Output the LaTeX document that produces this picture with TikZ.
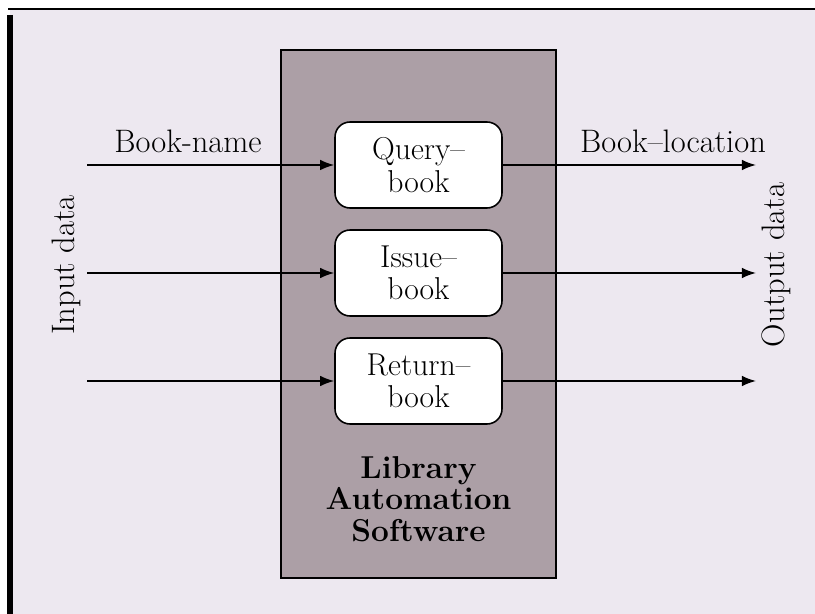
\documentclass[tikz,border=0pt]{standalone}
\usetikzlibrary{positioning,arrows.meta}
\definecolor{paper}{RGB}{237,232,240}
\definecolor{boxgray}{RGB}{172,159,166}

\begin{document}
\begin{tikzpicture}[x=0.02cm ,y=-0.02cm ,-{Latex[length=8pt,width=6pt]} ,
line width=0.9pt ,
proc/.style ={ rounded corners=0.3cm ,fill=white ,
draw , align=center , minimum width =3.34cm , minimum height =1.72cm ,
font=\fontsize{18}{18.5}\selectfont},
label/.style ={ font=\fontsize{18.5}{20}\selectfont},
software/.style ={ draw ,fill=boxgray ,minimum width =5.5cm ,minimum height =10.56cm}]
% page
\useasboundingbox (0,0) rectangle (815,614);
\fill[white] (0,0) rectangle (815,614);
\fill[paper] (10,9) rectangle (815,614);
\draw[-, line width=3.4pt] (10,15) -- (10,614);
\draw[-, line width=1.1pt] (8,9) -- (815,9);
% software box and processes
\node[software] (S) at (418.5,314) {};
\node[proc] (Q) at (418.5,165) {Query--\\book};
\node[proc] (I) at (418.5,273) {Issue--\\book};
\node[proc] (R) at (418.5,381) {Return--\\book};
\node[font=\fontsize{18}{18}\selectfont\bfseries, align=center] (L) at (418.5,499)
  {Library\\Automation\\Software};
% input and output ends
\coordinate (inx) at (87,0);
\coordinate (outx) at (756,0);
\coordinate (in1) at (inx |- Q);
\coordinate (in2) at (inx |- I);
\coordinate (in3) at (inx |- R);
\coordinate (out1) at (outx |- Q);
\coordinate (out2) at (outx |- I);
\coordinate (out3) at (outx |- R);
\draw (in1) -- (Q);
\draw (in2) -- (I);
\draw (in3) -- (R);
\draw (Q) -- (out1);
\draw (I) -- (out2);
\draw (R) -- (out3);
% labels
\node[label] (BN) at (188,141) {Book-name};
\node[label] (BL) at (673,141) {Book--location};
\node[label, rotate=90] (ID) at (66,265) {Input data};
\node[label, rotate=90] (OD) at (776,265) {Output data};
\end{tikzpicture}
\end{document}
